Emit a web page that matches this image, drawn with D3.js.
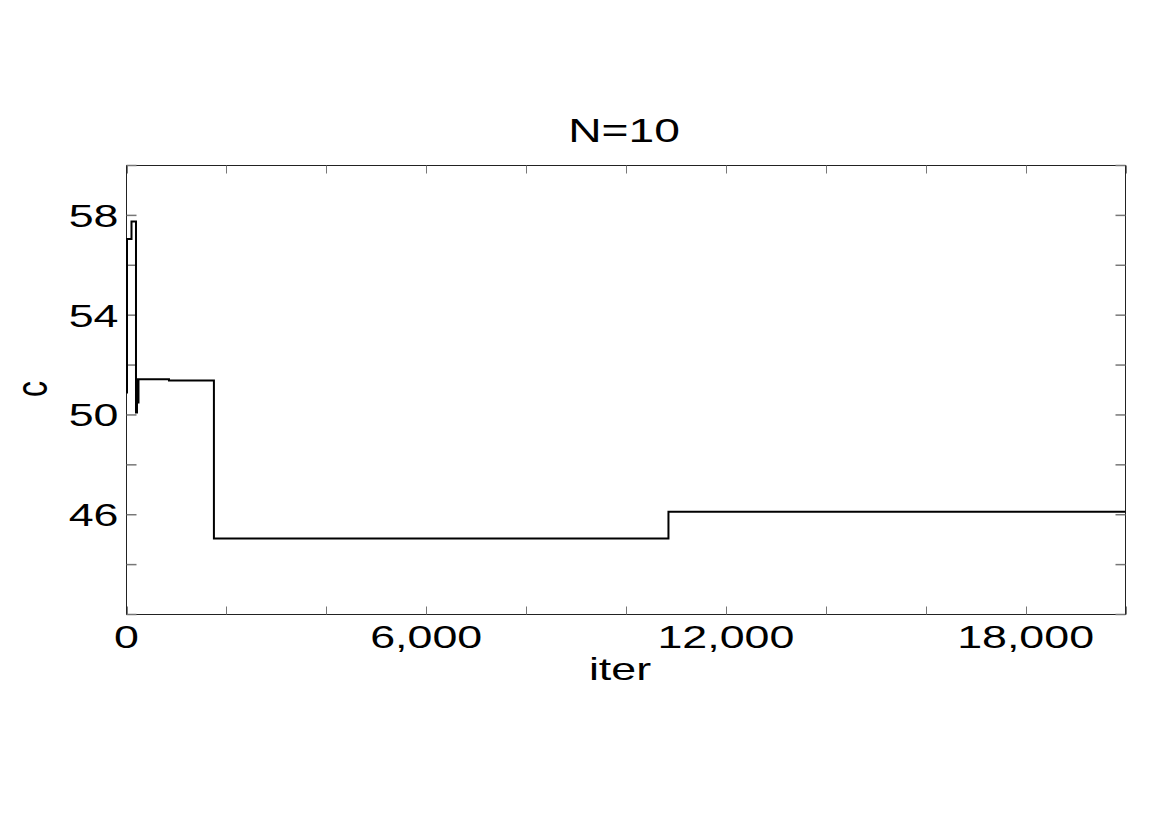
<!DOCTYPE html>
<html>
<head>
<meta charset="utf-8">
<script src="https://cdn.jsdelivr.net/npm/d3@7"></script>
<style>
  html, body { margin: 0; padding: 0; background: #fff; }
  svg { display: block; }
  text { font-family: "Liberation Sans", Arial, sans-serif; fill: #000; }
</style>
</head>
<body>
<svg id="chart" width="1170" height="827"></svg>
<script>
// Data (step series: iteration -> c)
const iterations = [0, 10, 100, 190, 210, 220, 240, 850, 1750, 10850, 20000];
const cValues    = [50.9, 57.05, 57.76, 50.1, 51.43, 50.5, 51.43, 51.38, 45.05, 46.12, 46.12];
const xTickValues = [0, 2000, 4000, 6000, 8000, 10000, 12000, 14000, 16000, 18000, 20000];
const xTickLabels = [0, 6000, 12000, 18000];
const yTickValues = [42, 44, 46, 48, 50, 52, 54, 56, 58, 60];
const yTickLabels = [46, 50, 54, 58];
const titleText = "N=10";
const xLabel = "iter";
const yLabel = "c";

const svg = d3.select("#chart");
const pLeft = 126.5, pRight = 1125.5, pTop = 165.5, pBottom = 614.5;
const x = d3.scaleLinear().domain([0, 20000]).range([pLeft, pRight]);
const y = d3.scaleLinear().domain([42, 60]).range([pBottom, pTop]);
const sx = 1.4; // horizontal stretch of the text in the reference
const fmt = d3.format(",");

// frame
svg.append("rect")
  .attr("x", pLeft).attr("y", pTop)
  .attr("width", pRight - pLeft).attr("height", pBottom - pTop)
  .attr("fill", "none").attr("stroke", "#222").attr("stroke-width", 1);

// x ticks (inward, bottom and top)
const tickColor = "#777";
svg.append("g").selectAll("line").data(xTickValues).join("line")
  .attr("x1", d => Math.round(x(d)) + 0.5).attr("x2", d => Math.round(x(d)) + 0.5)
  .attr("y1", pBottom).attr("y2", pBottom - 8)
  .attr("stroke", tickColor).attr("stroke-width", 1);
svg.append("g").selectAll("line").data(xTickValues).join("line")
  .attr("x1", d => Math.round(x(d)) + 0.5).attr("x2", d => Math.round(x(d)) + 0.5)
  .attr("y1", pTop).attr("y2", pTop + 8)
  .attr("stroke", tickColor).attr("stroke-width", 1);
// y ticks (inward, left and right)
svg.append("g").selectAll("line").data(yTickValues).join("line")
  .attr("x1", pLeft).attr("x2", pLeft + 10)
  .attr("y1", d => y(d)).attr("y2", d => y(d))
  .attr("stroke", tickColor).attr("stroke-width", 1.5);
svg.append("g").selectAll("line").data(yTickValues).join("line")
  .attr("x1", pRight).attr("x2", pRight - 10)
  .attr("y1", d => y(d)).attr("y2", d => y(d))
  .attr("stroke", tickColor).attr("stroke-width", 1.5);

// x tick labels
svg.append("g").selectAll("text").data(xTickLabels).join("text")
  .attr("transform", d => `translate(${x(d)},${pBottom + 33.5}) scale(${sx},1)`)
  .attr("text-anchor", "middle")
  .attr("font-size", 32)
  .text(d => fmt(d));

// y tick labels
svg.append("g").selectAll("text").data(yTickLabels).join("text")
  .attr("transform", d => `translate(${pLeft - 8},${y(d) + 11.5}) scale(${sx},1)`)
  .attr("text-anchor", "end")
  .attr("font-size", 32)
  .text(d => d);

// title
svg.append("text")
  .attr("transform", `translate(624,142) scale(${sx},1)`)
  .attr("text-anchor", "middle")
  .attr("font-size", 33)
  .text(titleText);

// axis labels
svg.append("text")
  .attr("transform", `translate(620,680) scale(${sx},1)`)
  .attr("text-anchor", "middle")
  .attr("font-size", 32)
  .text(xLabel);
svg.append("text")
  .attr("transform", `translate(47,389) scale(${sx},1) rotate(-90)`)
  .attr("text-anchor", "middle")
  .attr("font-size", 32)
  .text(yLabel);

// series
const pts = iterations.map((it, i) => [it, cValues[i]]);
const line = d3.line().x(d => x(d[0])).y(d => y(d[1])).curve(d3.curveStepAfter);
svg.append("path")
  .datum(pts)
  .attr("d", line)
  .attr("fill", "none")
  .attr("stroke", "#000")
  .attr("stroke-width", 2);
</script>
</body>
</html>
